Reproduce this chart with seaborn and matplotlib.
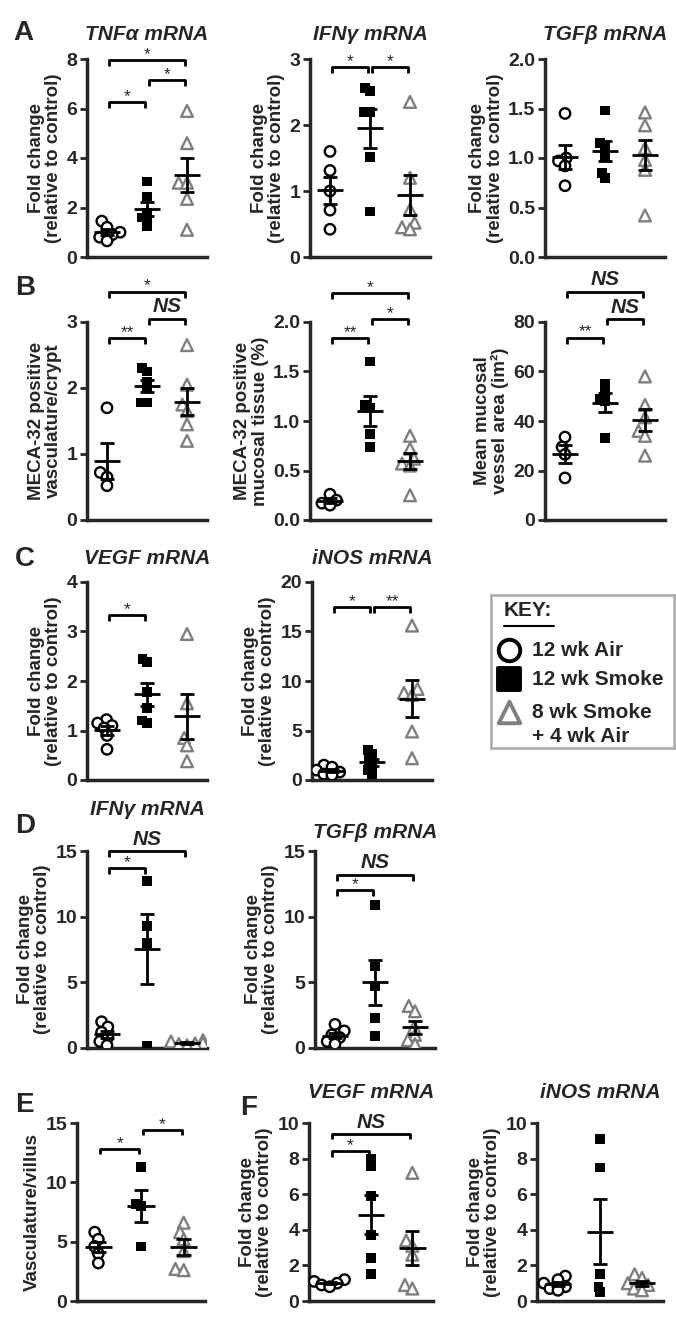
import numpy as np
import pandas as pd
import matplotlib
matplotlib.use('Agg')
import matplotlib.pyplot as plt
from matplotlib.collections import PathCollection
import seaborn as sns

sns.set_style('white')
plt.rcParams['font.family'] = ['Liberation Sans', 'DejaVu Sans']
plt.rcParams['font.weight'] = 'bold'
plt.rcParams['axes.labelweight'] = 'bold'

W, H = 676, 1318
GROUPS = ['12 wk Air', '12 wk Smoke', '8 wk Smoke + 4 wk Air']
FOLD = 'Fold change\n(relative to control)'

# A - colon cytokines
tnfa_air = [1.45, 1.2, 1.0, 0.9, 0.8, 0.65]
tnfa_smoke = [3.05, 2.45, 1.8, 1.6, 1.5, 1.25]
tnfa_post = [5.9, 4.6, 3.0, 3.0, 2.35, 1.1]
ifng_air = [1.6, 1.31, 1.0, 0.71, 0.42]
ifng_smoke = [2.56, 2.52, 2.2, 2.2, 1.52, 0.69]
ifng_post = [2.35, 1.2, 0.72, 0.52, 0.45, 0.42]
tgfb_air = [1.45, 1.0, 0.97, 0.92, 0.72]
tgfb_smoke = [1.48, 1.15, 1.12, 1.02, 0.85, 0.8]
tgfb_post = [1.46, 1.33, 1.1, 0.98, 0.88, 0.42]

# B - MECA-32 vasculature
crypt_air = [1.7, 0.72, 0.65, 0.52]
crypt_smoke = [2.3, 2.25, 2.1, 2.0, 1.78, 1.78]
crypt_post = [2.65, 2.05, 1.75, 1.65, 1.45, 1.2]
tissue_air = [0.26, 0.2, 0.17, 0.15]
tissue_smoke = [1.6, 1.16, 1.13, 0.87, 0.74]
tissue_post = [0.85, 0.72, 0.62, 0.57, 0.55, 0.25]
area_air = [33.5, 29.5, 26.5, 17.0]
area_smoke = [55.0, 52.0, 49.0, 48.0, 33.0]
area_post = [58.0, 46.5, 41.5, 36.0, 34.0, 26.0]

# C - colon VEGF / iNOS
vegf_air = [1.22, 1.15, 1.1, 1.05, 0.9, 0.62]
vegf_smoke = [2.45, 2.38, 1.78, 1.45, 1.2, 1.15]
vegf_post = [2.95, 1.55, 0.85, 0.7, 0.38]
inos_air = [1.5, 1.3, 1.0, 0.8, 0.6, 0.5]
inos_smoke = [3.0, 2.6, 2.0, 1.5, 1.0, 0.6]
inos_post = [15.6, 9.2, 8.8, 8.6, 4.9, 2.2]

# D - ileum cytokines
d_ifng_air = [2.0, 1.6, 1.2, 0.8, 0.5, 0.2]
d_ifng_smoke = [12.7, 9.3, 8.0, 0.2]
d_ifng_post = [0.6, 0.5, 0.4, 0.35, 0.3, 0.2]
d_tgfb_air = [1.8, 1.3, 1.0, 0.8, 0.5, 0.3]
d_tgfb_smoke = [10.9, 6.2, 4.7, 2.3, 0.9]
d_tgfb_post = [3.2, 2.8, 1.6, 1.0, 0.6, 0.3]

# E / F - ileum vasculature, VEGF, iNOS
villus_air = [5.8, 5.2, 4.6, 4.0, 3.2]
villus_smoke = [11.3, 8.2, 8.0, 4.6]
villus_post = [6.6, 5.8, 5.2, 4.2, 2.7, 2.6]
f_vegf_air = [1.2, 1.1, 1.0, 0.9, 0.8]
f_vegf_smoke = [8.0, 7.6, 5.9, 3.7, 2.4, 1.5]
f_vegf_post = [7.2, 3.4, 3.1, 2.6, 0.9, 0.7]
f_inos_air = [1.4, 1.2, 1.0, 0.8, 0.7, 0.6]
f_inos_smoke = [9.1, 7.5, 1.5, 0.8, 0.5]
f_inos_post = [1.5, 1.3, 1.0, 0.9, 0.7, 0.6]

GRAY = '#7f7f7f'
STYLES = [
    dict(marker='o', color='white', edgecolor='black', linewidth=1.7),
    dict(marker='s', color='black', edgecolor='black', linewidth=0),
    dict(marker='^', color='white', edgecolor=GRAY, linewidth=1.7),
]
DRAW_SIZE = [7.5, 7.0, 8.5]   # marker size shown (pt)
SWARM_SIZE = 4.0              # smaller size used to lay out the swarm -> some overlap, like the original

fig = plt.figure(figsize=(W / 100, H / 100), dpi=100)
swarms = []


def px_rect(left, top, right, bottom):
    return [left / W, 1 - bottom / H, (right - left) / W, (bottom - top) / H]


def draw_panel(box, air, smoke, post, ymax, yticks, ylabel, title=None,
               title_pad=14, brackets=(), decimals=0):
    ax = fig.add_axes(px_rect(*box))
    df = pd.DataFrame({
        'group': np.repeat(GROUPS, [len(air), len(smoke), len(post)]),
        'value': air + smoke + post,
    })
    for g, style, big in zip(GROUPS, STYLES, DRAW_SIZE):
        before = list(ax.collections)
        sns.swarmplot(data=df[df['group'] == g], x='group', y='value', order=GROUPS,
                      ax=ax, zorder=3, size=SWARM_SIZE, **style)
        for c in ax.collections:
            if isinstance(c, PathCollection) and not any(c is b for b in before):
                swarms.append((c, big))

    # mean +/- SEM
    for i, vals in enumerate([air, smoke, post]):
        m = np.mean(vals)
        s = np.std(vals, ddof=1) / np.sqrt(len(vals))
        ax.hlines(m, i - 0.32, i + 0.32, color='black', lw=2, zorder=4)
        ax.hlines([m - s, m + s], i - 0.17, i + 0.17, color='black', lw=2, zorder=4)
        ax.vlines(i, m - s, m + s, color='black', lw=2, zorder=4)

    # significance brackets
    drop = 0.03 * ymax
    for i, j, y, label in brackets:
        ax.plot([i + 0.05, i + 0.05, j - 0.05, j - 0.05], [y - drop, y, y, y - drop],
                color='black', lw=2, clip_on=False, solid_capstyle='butt')
        if label == 'NS':
            ax.text((i + j) / 2, y + 0.012 * ymax, label, ha='center', va='bottom',
                    fontsize=15, fontweight='bold', fontstyle='italic')
        else:
            ax.text((i + j) / 2, y - 0.01 * ymax, label, ha='center', va='bottom',
                    fontsize=12.5, fontweight='normal')

    ax.set_xlim(-0.5, 2.5)
    ax.set_ylim(0, ymax)
    ax.set_yticks(yticks)
    ax.set_yticklabels([f'{t:.{decimals}f}' for t in yticks])
    ax.set_xticks([])
    ax.set_xlabel('')
    ax.set_ylabel(ylabel, fontsize=13.5, fontweight='bold', labelpad=3, linespacing=1.05)
    sns.despine(ax=ax)
    for side in ['left', 'bottom']:
        ax.spines[side].set_linewidth(2.5)
    ax.tick_params(axis='y', direction='out', length=5, width=2, labelsize=14, pad=2,
                   left=True)
    for lab in ax.get_yticklabels():
        lab.set_fontweight('bold')
    if title:
        ax.set_title(title, fontsize=15, fontweight='bold', fontstyle='italic',
                     pad=title_pad)
    return ax


# row A
draw_panel((87, 59, 207, 257), tnfa_air, tnfa_smoke, tnfa_post, 8, [0, 2, 4, 6, 8], FOLD,
           'TNF\u03b1 mRNA', brackets=[(0, 1, 6.25, '*'), (1, 2, 7.15, '*'), (0, 2, 7.95, '*')])
draw_panel((310, 59, 430, 257), ifng_air, ifng_smoke, ifng_post, 3, [0, 1, 2, 3], FOLD,
           'IFN\u03b3 mRNA', brackets=[(0, 1, 2.88, '*'), (1, 2, 2.88, '*')])
draw_panel((545, 59, 665, 257), tgfb_air, tgfb_smoke, tgfb_post, 2, [0, 0.5, 1.0, 1.5, 2.0],
           FOLD, 'TGF\u03b2 mRNA', decimals=1)

# row B
draw_panel((87, 322, 207, 520), crypt_air, crypt_smoke, crypt_post, 3, [0, 1, 2, 3],
           'MECA-32 positive\nvasculature/crypt',
           brackets=[(0, 1, 2.75, '**'), (1, 2, 3.05, 'NS'), (0, 2, 3.46, '*')])
draw_panel((310, 322, 430, 520), tissue_air, tissue_smoke, tissue_post, 2,
           [0, 0.5, 1.0, 1.5, 2.0], 'MECA-32 positive\nmucosal tissue (%)', decimals=1,
           brackets=[(0, 1, 1.84, '**'), (1, 2, 2.03, '*'), (0, 2, 2.29, '*')])
draw_panel((545, 322, 665, 520), area_air, area_smoke, area_post, 80, [0, 20, 40, 60, 80],
           'Mean mucosal\nvessel area (im\u00b2)',
           brackets=[(0, 1, 73.7, '**'), (1, 2, 81.1, 'NS'), (0, 2, 92.2, 'NS')])

# row C
draw_panel((87, 582, 207, 780), vegf_air, vegf_smoke, vegf_post, 4, [0, 1, 2, 3, 4], FOLD,
           'VEGF mRNA', title_pad=13, brackets=[(0, 1, 3.33, '*')])
draw_panel((312, 582, 432, 780), inos_air, inos_smoke, inos_post, 20, [0, 5, 10, 15, 20],
           FOLD, 'iNOS mRNA', title_pad=13,
           brackets=[(0, 1, 17.5, '*'), (1, 2, 17.5, '**')])

# row D
draw_panel((87, 851, 207, 1048), d_ifng_air, d_ifng_smoke, d_ifng_post, 15, [0, 5, 10, 15],
           FOLD, 'IFN\u03b3 mRNA', title_pad=26,
           brackets=[(0, 1, 13.7, '*'), (0, 2, 15.0, 'NS')])
draw_panel((315, 851, 435, 1048), d_tgfb_air, d_tgfb_smoke, d_tgfb_post, 15, [0, 5, 10, 15],
           FOLD, 'TGF\u03b2 mRNA', title_pad=9,
           brackets=[(0, 1, 12.0, '*'), (0, 2, 13.2, 'NS')])

# row E / F
draw_panel((77, 1123, 205, 1301), villus_air, villus_smoke, villus_post, 15, [0, 5, 10, 15],
           'Vasculature/villus', brackets=[(0, 1, 12.8, '*'), (1, 2, 14.4, '*')])
draw_panel((309, 1123, 433, 1301), f_vegf_air, f_vegf_smoke, f_vegf_post, 10,
           [0, 2, 4, 6, 8, 10], FOLD, 'VEGF mRNA', title_pad=18,
           brackets=[(0, 1, 8.4, '*'), (0, 2, 9.4, 'NS')])
draw_panel((537, 1123, 663, 1301), f_inos_air, f_inos_smoke, f_inos_post, 10,
           [0, 2, 4, 6, 8, 10], FOLD, 'iNOS mRNA', title_pad=18)

# panel letters
for letter, x, y in [('A', 13, 40), ('B', 15, 295), ('C', 15, 566), ('D', 15, 833),
                     ('E', 15, 1112), ('F', 240, 1115)]:
    fig.text(x / W, 1 - y / H, letter, fontsize=20, fontweight='bold',
             ha='left', va='baseline')

# key box
kax = fig.add_axes(px_rect(491, 595, 674, 748))
kax.set_xlim(0, 1)
kax.set_ylim(0, 1)
kax.set_xticks([])
kax.set_yticks([])
for sp in kax.spines.values():
    sp.set_color('#aaaaaa')
    sp.set_linewidth(1.8)
kax.text(0.07, 0.9, 'KEY:', fontsize=15, fontweight='bold', va='center', ha='left')
kax.plot([0.07, 0.345], [0.8, 0.8], color='black', lw=1.5)
key_y = [0.64, 0.45, 0.235]
key_labels = ['12 wk Air', '12 wk Smoke', '8 wk Smoke']
for y, lab, style in zip(key_y, key_labels, STYLES):
    kax.scatter([0.1], [y], marker=style['marker'], s=240,
                facecolor=style['color'], edgecolor=style['edgecolor'], linewidths=2.8)
    kax.text(0.225, y, lab, fontsize=15, fontweight='bold', va='center', ha='left')
kax.text(0.225, 0.075, '+ 4 wk Air', fontsize=15, fontweight='bold', va='center', ha='left')

# lay the swarms out once at the small size, then freeze them and enlarge the markers
fig.canvas.draw()
for coll, big in swarms:
    if 'draw' in coll.__dict__:
        del coll.draw
    coll.set_sizes(np.full(len(coll.get_offsets()), big ** 2))

fig.savefig('out.png', dpi=100)
